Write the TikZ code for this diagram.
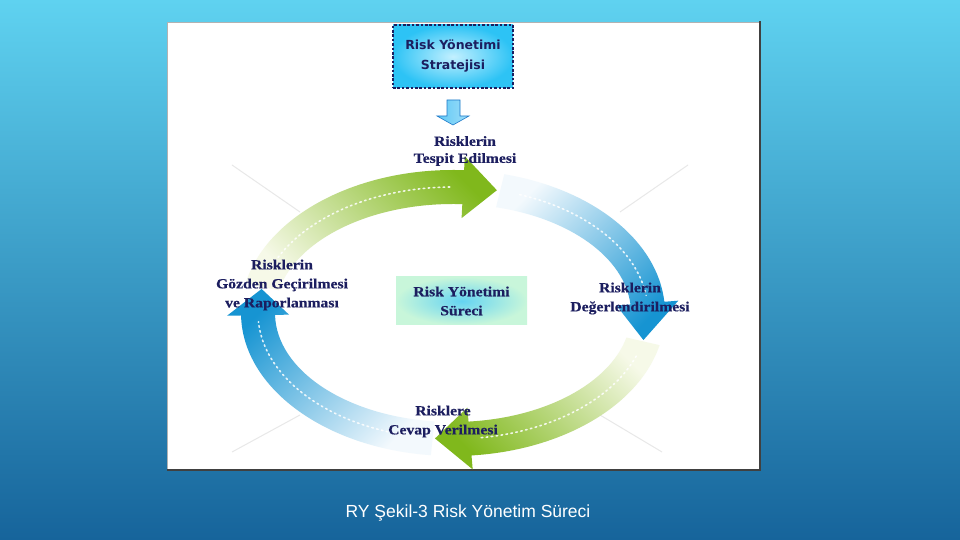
\documentclass[tikz,border=0pt]{standalone}
\usepackage{fontspec}
\setmainfont{Liberation Serif}
\newfontfamily\labfont[FakeStretch=1.12, FakeBold=0.4]{Liberation Serif}
\newfontfamily\boxfont{DejaVu Sans}
\newfontfamily\capfont{Liberation Sans}
\definecolor{bgtop}{RGB}{95,210,240}
\definecolor{bgbot}{RGB}{22,100,155}
\definecolor{navy}{RGB}{28,30,95}
\definecolor{grn}{RGB}{128,184,28}
\definecolor{grnpale}{RGB}{246,249,232}
\definecolor{blu}{RGB}{22,148,210}
\definecolor{blupale}{RGB}{243,249,253}
\definecolor{boxin}{RGB}{195,240,255}
\definecolor{boxout}{RGB}{45,195,245}
\definecolor{mint}{RGB}{200,246,218}
\definecolor{glow}{RGB}{100,212,242}
\definecolor{arrfill}{RGB}{95,200,245}
\definecolor{arrline}{RGB}{30,120,200}
\newcommand{\ringarrow}[4]{%
  \path[#4] (#1:212pt and 143pt)
    arc[start angle=#1, end angle=#2, x radius=212pt, y radius=143pt]
    -- (#2:226pt and 157pt) -- (#3:195pt and 126pt) -- (#2:164pt and 95pt)
    -- (#2:178pt and 109pt)
    arc[start angle=#2, end angle=#1, x radius=178pt, y radius=109pt] -- cycle;}
\newcommand{\ringdots}[2]{%
  \draw[dotline] (#1:195pt and 126pt)
    arc[start angle=#1, end angle=#2, x radius=195pt, y radius=126pt];}
\begin{document}
\begin{tikzpicture}[x=1pt,y=1pt,
  lab/.style={align=center, text=navy, inner sep=0pt,
    font=\labfont\bfseries\fontsize{14}{19}\selectfont},
  dotline/.style={white, line width=1.6pt, dash pattern=on 1.6pt off 3.4pt,
    line cap=round, opacity=0.85},
  faint/.style={gray!18, line width=1pt}]
\useasboundingbox (0,0) rectangle (960,540);
\shade[top color=bgtop, bottom color=bgbot] (0,0) rectangle (960,540);
% panel
\fill[white] (167,70) rectangle (760,518);
\draw[gray!60, line width=0.6pt] (167,70) -- (167,518) -- (760,518);
\draw[black!75, line width=2pt] (167,70) -- (760,70) -- (760,519);
% faint background rays
\draw[faint] (232,375) -- (300,328);
\draw[faint] (688,375) -- (620,328);
\draw[faint] (232,88) -- (300,125);
\draw[faint] (662,88) -- (600,125);
% ring arrows
\begin{scope}[shift={(453,227)}]
  \ringarrow{168}{87}{77}{top color=grn, bottom color=grnpale, shading angle=-45}
  \ringarrow{76}{4.5}{-12.4}{top color=blupale, bottom color=blu, shading angle=45}
  \ringarrow{-13}{-85}{-95.3}{top color=grnpale, bottom color=grn, shading angle=-45}
  \ringarrow{264}{181}{169}{top color=blu, bottom color=blupale, shading angle=45}
  \ringdots{160}{90}
  \ringdots{70}{8}
  \ringdots{-20}{-82}
  \ringdots{255}{184}
\end{scope}
% strategy box
\node[draw=navy, line width=2.6pt, dash pattern=on 2.6pt off 1.8pt,
  inner color=boxin, outer color=boxout, minimum width=120pt, minimum height=63pt,
  align=center, text=navy, font=\boxfont\bfseries\fontsize{12.5}{20}\selectfont]
  (strat) at (453,483.5) {Risk Yönetimi\\Stratejisi};
% small down arrow
\draw[arrline, line width=0.6pt, left color=arrfill, right color=arrfill!60!white]
  (447,440) -- (460,440) -- (460,424) -- (469,424) -- (453,415) -- (437,424)
  -- (447,424) -- cycle;
% centre box
\node[inner color=glow, outer color=mint, minimum width=131pt, minimum height=48pt,
  align=center, text=navy, font=\labfont\bfseries\fontsize{14}{19}\selectfont]
  (proc) at (461.5,239) {Risk Yönetimi\\Süreci};
% labels
\node[lab] (tespit) at (465,389) {Risklerin\\[-2pt]Tespit Edilmesi};
\node[lab] (gozden) at (282,255) {Risklerin\\Gözden Geçirilmesi\\ve Raporlanması};
\node[lab] (deger) at (630,241.5) {Risklerin\\Değerlendirilmesi};
\node[lab] (cevap) at (443,118.5) {Risklere\\Cevap Verilmesi};
% caption
\node[text=white, font=\capfont\fontsize{17.5}{20}\selectfont] (cap) at (468,27)
  {RY Şekil-3 Risk Yönetim Süreci};
\end{tikzpicture}
\end{document}
